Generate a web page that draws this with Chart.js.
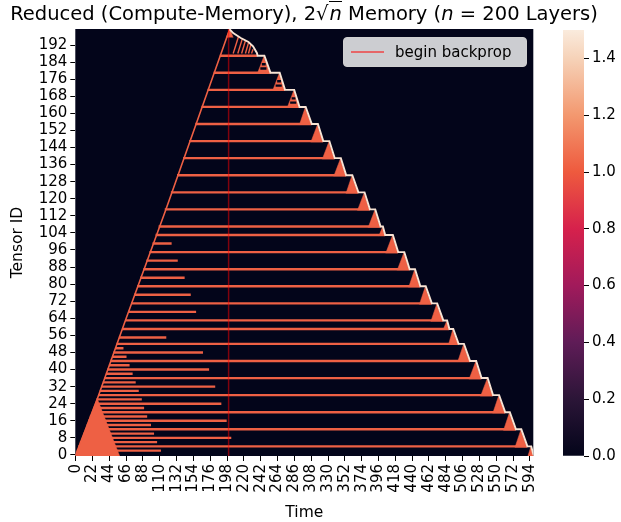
<!DOCTYPE html>
<html><head><meta charset="utf-8">
<script src="https://cdn.jsdelivr.net/npm/chart.js@4.4.1/dist/chart.umd.min.js"></script>
<style>
  html, body { margin: 0; padding: 0; background: #fff; }
  #wrap { position: relative; width: 621px; height: 522px; overflow: hidden; font-family: 'DejaVu Sans', sans-serif; }
  #main, #cbar { position: absolute; top: 0; }
  #main { left: 0; }
  #cbar { left: 540px; }
  #title { position: absolute; left: 0; top: 2px; width: 608px; text-align: center; font-size: 19.5px; line-height: 23px; color: #000; white-space: nowrap; }
  #title .ov { border-top: 1px solid #000; padding-left: 1px; }
  #legend { position: absolute; left: 343px; top: 37px; width: 184px; height: 30px; box-sizing: border-box;
            background: rgba(255,255,255,0.8); border: 1px solid #d0d0d0; border-radius: 4px; }
  #legend .ln { position: absolute; left: 7px; top: 13px; width: 33px; height: 1.5px; background: rgba(255,0,0,0.5); }
  #legend .tx { position: absolute; left: 51px; top: 4px; font-size: 15px; line-height: 20px; color: #000; }
</style></head>
<body><div id="wrap">
<canvas id="main" width="621" height="522"></canvas>
<canvas id="cbar" width="81" height="522"></canvas>
<div id="title">Reduced (Compute-Memory), 2√<span class="ov"><i>n</i></span> Memory (<i>n</i> = 200 Layers)</div>
<div id="legend"><span class="ln"></span><span class="tx">begin backprop</span></div>
</div>
<script>
/* values: rows are tensor IDs, x is the time step */
const xTicks = [0,22,44,66,88,110,132,154,176,198,220,242,264,286,308,330,352,374,396,418,440,462,484,506,528,550,572,594];
const yTicks = [0,8,16,24,32,40,48,56,64,72,80,88,96,104,112,120,128,136,144,152,160,168,176,184,192];
const cbTicks = [0,0.2,0.4,0.6,0.8,1.0,1.2,1.4];
const cbMax = 1.5;
const backpropAt = 200;

// forward pass diagonal
const diagTime = [0, 28, 65, 118, 201];
const diagRow  = [0, 26, 63, 115, 199];
// solid wedge at the start
const wedgeTime = [0, 28, 57];
const wedgeRow  = [0, 26, 0];

// checkpoints kept until the backward pass reaches them
const cpRow   = [187,179,171,163,155,147,139,131,123,115,107,103,95,87,79,71,63,59,52,44,36,28,20,12,4];
const cpStart = [189,181,173,165,157,149,141,133,125,117,109,105,97,89,81,73,65,61,54,46,38,30,22,13,4];
const cpEnd   = [237,254,273,292,308,323,338,353,369,384,398,404,421,436,450,465,480,488,500,515,530,545,561,575,590];

// shorter-lived tensors in the forward pass
const shortRow   = [99,91,83,75,67,55,50,48,46,42,40,38,34,32,30,26,24,22,18,16,14,10,8,6,2];
const shortStart = [101,93,85,77,69,57,52,50,48,44,42,40,36,34,32,28,26,24,19,17,15,11,9,6,2];
const shortEnd   = [125,133,142,150,157,118,62,166,66,70,174,74,78,182,82,86,190,89,93,197,98,102,203,106,111];

// backward segments: recompute up to the peak, then backprop down
const triBase  = [179,171,163,155,147,139,131,123,115,107,103,95,87,79,71,63,59,52,44,36,28,20,12,4,0];
const triTop   = [187,179,171,163,155,147,139,131,123,115,107,103,95,87,79,71,63,59,52,44,36,28,20,12,4];
const triStart = [238,258,277,293,308,323,338,354,369,383,397,406,421,436,450,465,481,488,500,515,530,546,560,575,592];
const triPeak  = [246,266,285,300,316,331,346,361,377,391,401,414,429,443,457,472,485,493,507,523,538,553,567,582,595];
const triEnd   = [254,273,292,308,323,338,353,369,384,398,404,421,436,450,465,480,488,500,515,530,545,561,575,590,598];

// freed cells inside the upper triangles
const darkRow   = [181,183,173,175,165,167];
const darkStart = [242,244,262,264,281,283];
const darkEnd   = [249,248,269,268,288,287];

// top segment (rows 188-199)
const topTriTime = [197, 201.5, 206];
const topTriRow  = [196, 199, 196];
const strokeBase  = 188;
const strokeT0    = [206,212,217,222,226,230];
const strokeT1    = [213,218,222,226,229,232];
const strokeTop   = [196,195,194,193,192,190];
const envTime = [201, 206, 216, 226, 232, 237, 238];
const envRow  = [199.5, 197.6, 195.3, 193.4, 191.4, 188.3, 187];

const ORANGE = '#ee6044', CREAM = '#f8e4d4', BG = '#03051a';
const rocket = [[0,'#03051a'],[0.133,'#2b1537'],[0.267,'#5f1c57'],[0.4,'#a11a5b'],
                [0.533,'#d6214c'],[0.667,'#ee5a3e'],[0.8,'#f3986f'],[0.933,'#f6d2b8'],[1,'#faebdd']];

Chart.defaults.font.family = "'DejaVu Sans', sans-serif";
Chart.defaults.color = '#000';

const rowPx = c => c.chart.chartArea ? c.chart.chartArea.height / 200 * 1.12 : 2.3;
const datasets = [];
function band(row, t0, t1, color, order) {
  datasets.push({ data: [{ x: t0 - 0.5, y: row }, { x: t1 + 0.5, y: row }],
    borderColor: color, borderWidth: rowPx, order });
}
function poly(pts, color, order) {
  datasets.push({ data: pts, borderColor: color, backgroundColor: color, borderWidth: 0.5, fill: 'shape', order });
}
function path(pts, color, w, order) {
  datasets.push({ data: pts, borderColor: color, borderWidth: w, order });
}

cpRow.forEach((r, i) => band(r, cpStart[i], cpEnd[i], ORANGE, 50));
shortRow.forEach((r, i) => band(r, shortStart[i], shortEnd[i], ORANGE, 50));
path(diagTime.map((t, i) => ({ x: t, y: diagRow[i] })), ORANGE, 1.6, 45);
poly([{ x: wedgeTime[0] - 0.5, y: wedgeRow[0] - 0.5 }, { x: wedgeTime[1], y: wedgeRow[1] + 0.5 },
      { x: wedgeTime[2] + 0.5, y: wedgeRow[2] - 0.5 }], ORANGE, 40);
triBase.forEach((b, i) => poly([{ x: triStart[i] - 0.5, y: b - 0.5 }, { x: triPeak[i], y: triTop[i] - 0.5 },
      { x: triEnd[i] + 0.5, y: b - 0.5 }], ORANGE, 40));
poly(topTriTime.map((t, i) => ({ x: t, y: topTriRow[i] + (i === 1 ? 0.5 : -0.5) })), ORANGE, 40);
darkRow.forEach((r, i) => band(r, darkStart[i], darkEnd[i], BG, 30));
strokeT0.forEach((t, i) => path([{ x: t, y: strokeBase }, { x: strokeT1[i], y: strokeTop[i] }], ORANGE, 1.4, 25));

// white gradient front: top envelope, then the staircase along the triangles
const front = envTime.map((t, i) => ({ x: t, y: envRow[i] }));
triBase.forEach((b, i) => {
  front.push({ x: triPeak[i] + 0.8, y: triTop[i] });
  front.push({ x: triEnd[i] + 0.8, y: b });
});
path(front, CREAM, 1.9, 10);
path([{ x: backpropAt, y: -0.5 }, { x: backpropAt, y: 199.5 }], 'rgba(255,0,0,0.5)', 1.5, 0);

const bgPlugin = {
  id: 'bg',
  beforeDatasetsDraw(chart) {
    const a = chart.chartArea, ctx = chart.ctx;
    ctx.save(); ctx.fillStyle = BG; ctx.fillRect(a.left, a.top, a.right - a.left, a.bottom - a.top); ctx.restore();
  }
};

new Chart(document.getElementById('main'), {
  type: 'line',
  data: { datasets },
  options: {
    responsive: false, animation: false, events: [],
    datasets: { line: { pointRadius: 0, borderCapStyle: 'butt', tension: 0 } },
    layout: { padding: { left: 0, top: 29, right: 87.7, bottom: 0 } },
    plugins: { legend: { display: false }, tooltip: { enabled: false } },
    scales: {
      x: {
        type: 'linear', min: -0.5, max: 598.5,
        afterBuildTicks: s => { s.ticks = xTicks.map(v => ({ value: v })); },
        afterFit: s => { s.height = 66; },
        ticks: { autoSkip: false, minRotation: 90, maxRotation: 90, padding: 3, font: { size: 15 } },
        grid: { drawOnChartArea: false, drawTicks: true, tickLength: 5, color: '#000' },
        border: { display: false },
        title: { display: true, text: 'Time', font: { size: 15.5 }, padding: { top: 0, bottom: 0 } }
      },
      y: {
        type: 'linear', min: -0.5, max: 199.5,
        afterBuildTicks: s => { s.ticks = yTicks.map(v => ({ value: v })); },
        afterFit: s => { s.width = 75.3; },
        ticks: { autoSkip: false, padding: 3, font: { size: 15 } },
        grid: { drawOnChartArea: false, drawTicks: true, tickLength: 5, color: '#000' },
        border: { display: false },
        title: { display: true, text: 'Tensor ID', font: { size: 15.5 }, padding: { top: 9, bottom: 0 } }
      }
    }
  },
  plugins: [bgPlugin]
});

/* colour bar */
function rocketFill(c) {
  const a = c.chart.chartArea;
  if (!a) return BG;
  const g = c.chart.ctx.createLinearGradient(0, a.bottom, 0, a.top);
  rocket.forEach(([p, col]) => g.addColorStop(p, col));
  return g;
}
new Chart(document.getElementById('cbar'), {
  type: 'bar',
  data: { labels: [''], datasets: [{ data: [[0, cbMax]], backgroundColor: rocketFill, borderWidth: 0,
    barPercentage: 1, categoryPercentage: 1 }] },
  options: {
    responsive: false, animation: false, events: [],
    layout: { padding: { left: 23, top: 30, right: 0, bottom: 66 } },
    plugins: { legend: { display: false }, tooltip: { enabled: false } },
    scales: {
      x: { display: false },
      y: {
        position: 'right', min: 0, max: cbMax,
        afterBuildTicks: s => { s.ticks = cbTicks.map(v => ({ value: v })); },
        afterFit: s => { s.width = 37; },
        ticks: { padding: 3, font: { size: 15 }, callback: v => v.toFixed(1) },
        grid: { drawOnChartArea: false, drawTicks: true, tickLength: 5, color: '#000' },
        border: { display: false }
      }
    }
  }
});
</script>
</body></html>
